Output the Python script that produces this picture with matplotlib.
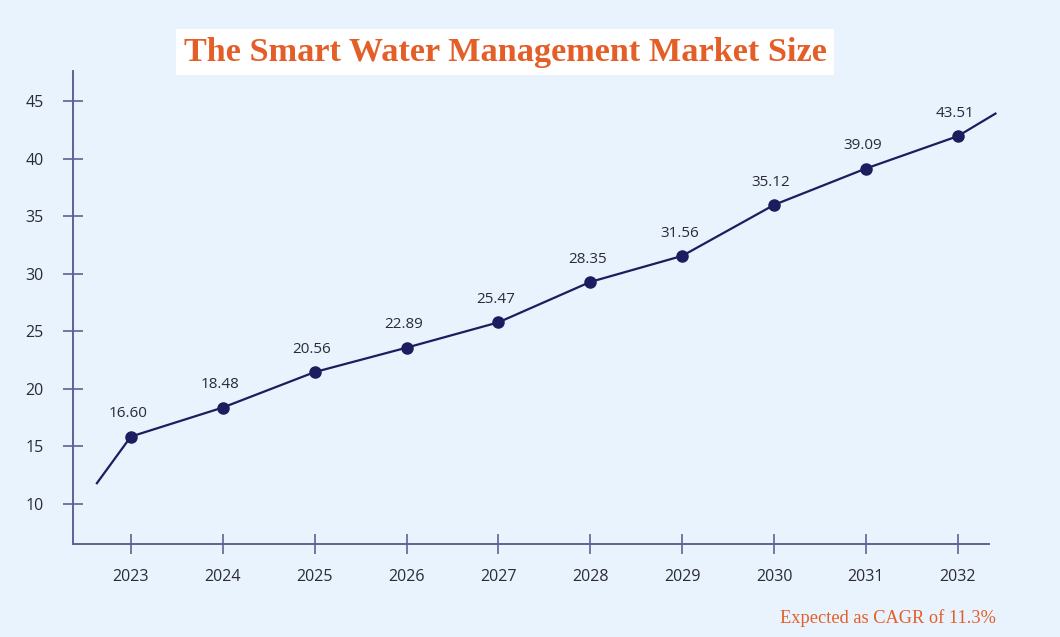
import matplotlib
matplotlib.use("Agg")
import matplotlib.pyplot as plt

# ---- data ----
years = [2023, 2024, 2025, 2026, 2027, 2028, 2029, 2030, 2031, 2032]
plotted_values = [15.85, 18.37, 21.45, 23.57, 25.77, 29.28, 31.54, 35.97, 39.13, 41.94]
value_labels = ["16.60", "18.48", "20.56", "22.89", "25.47", "28.35", "31.56", "35.12", "39.09", "43.51"]
lead_in = (2022.63, 11.8)
lead_out = (2032.41, 43.9)
y_ticks = [10, 15, 20, 25, 30, 35, 40, 45]
title = "The Smart Water Management Market Size"
footer = "Expected as CAGR of 11.3%"

BG = "#e8f3fd"
AXC = "#5b6394"
NAVY = "#1c1c5e"
ORANGE = "#e45e27"
TXT = "#2a2a3a"

fig = plt.figure(figsize=(10.6, 6.37), dpi=100, facecolor=BG)
ax = fig.add_axes([73/1060, 1-544/637, (989-73)/1060, (544-71)/637])
ax.set_facecolor(BG)

line_x = [lead_in[0]] + years + [lead_out[0]]
line_y = [lead_in[1]] + plotted_values + [lead_out[1]]
ax.plot(line_x, line_y, color=NAVY, lw=1.6, clip_on=False, zorder=3)
ax.plot(years, plotted_values, 'o', color=NAVY, ms=8, zorder=4, clip_on=False)

for x, y, lab in zip(years, plotted_values, value_labels):
    ax.annotate(lab, (x, y), xytext=(-2, 11), textcoords="offset points",
                ha="center", va="bottom", fontsize=11, color=TXT,
                family="Open Sans")

ax.set_xlim(2022.37, 2032.34)
ax.set_ylim(6.52, 47.6)
ax.set_xticks(years)
ax.set_xticklabels([str(y) for y in years])
ax.set_yticks(y_ticks)
ax.set_yticklabels([str(v) for v in y_ticks])

for s in ["top", "right"]:
    ax.spines[s].set_visible(False)
for s in ["left", "bottom"]:
    ax.spines[s].set_color(AXC)
    ax.spines[s].set_linewidth(1.4)

ax.tick_params(axis="both", direction="inout", length=14, width=1.2, color=AXC,
               labelcolor=TXT, labelsize=11.5)
ax.tick_params(axis="x", pad=11)
ax.tick_params(axis="y", pad=14)
for lab in ax.get_xticklabels() + ax.get_yticklabels():
    lab.set_family("Open Sans")

fig.text(505/1060, 1-52/637, title, ha="center", va="center",
         fontsize=24.7, fontweight="bold", color=ORANGE, family="Liberation Serif",
         bbox=dict(boxstyle="square,pad=0.22", facecolor="white", edgecolor="none"))

fig.text(996/1060, 1-618/637, footer, ha="right", va="center",
         fontsize=13.2, color=ORANGE, family="Liberation Serif")

fig.savefig("out.png", dpi=100, facecolor=BG)
